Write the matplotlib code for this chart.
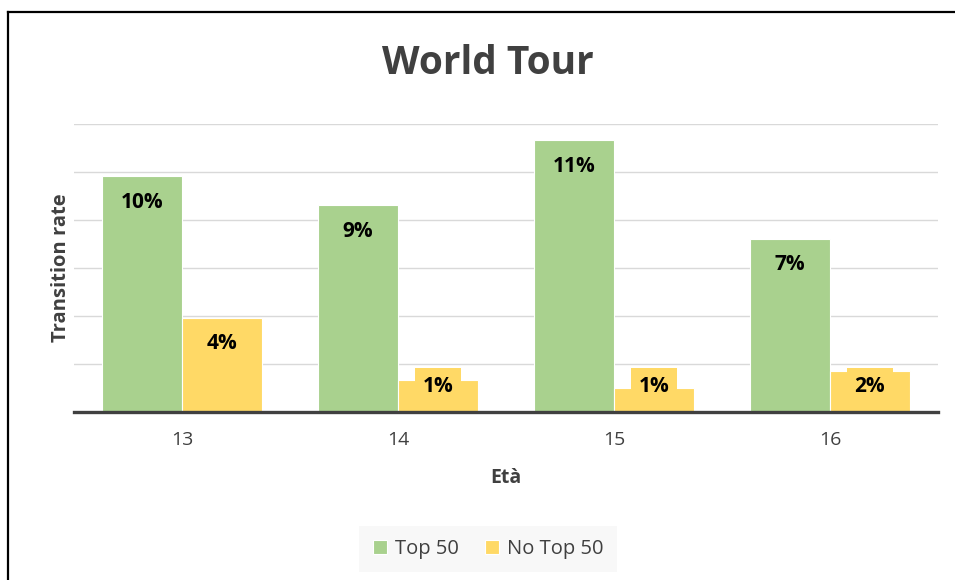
import matplotlib.pyplot as plt
from matplotlib.lines import Line2D
import numpy as np

plt.rcParams['font.family'] = ['Open Sans', 'DejaVu Sans']

# Data
ages = ['13', '14', '15', '16']
top50 = [9.8, 8.6, 11.3, 7.2]       # transition rate, %
no_top50 = [3.9, 1.3, 1.0, 1.7]     # transition rate, %
series_names = ['Top 50', 'No Top 50']

green = '#A9D18E'
yellow = '#FFD966'
text_dark = '#404040'

fig = plt.figure(figsize=(9.55, 5.8), dpi=100)
ax = fig.add_axes([74 / 955, 1 - 411.5 / 580, (938 - 74) / 955, (411.5 - 123.5) / 580])

x = np.arange(len(ages))
w = 0.37
b1 = ax.bar(x - w / 2, top50, width=w, color=green, edgecolor='white', linewidth=0.8,
            label=series_names[0], zorder=2)
b2 = ax.bar(x + w / 2, no_top50, width=w, color=yellow, edgecolor='white', linewidth=0.8,
            label=series_names[1], zorder=2)

ax.set_xlim(-0.5, len(ages) - 0.5)
ax.set_ylim(0, 12)
ax.set_yticks(np.arange(0, 13, 2))
ax.set_yticklabels([])
ax.tick_params(axis='y', length=0)
ax.tick_params(axis='x', length=0, labelsize=14, labelcolor=text_dark, pad=14)
ax.set_xticks(x)
ax.set_xticklabels(ages)
ax.grid(axis='y', color='#d9d9d9', linewidth=1.0, zorder=0)
ax.set_axisbelow(True)
for s in ['top', 'right', 'left']:
    ax.spines[s].set_visible(False)
ax.spines['bottom'].set_color(text_dark)
ax.spines['bottom'].set_linewidth(2.4)
ax.spines['bottom'].set_zorder(5)

# Value labels: inside the top of each bar, kept clear of the axis for short bars
for bars, vals, col in [(b1, top50, green), (b2, no_top50, yellow)]:
    for rect, v in zip(bars, vals):
        cx = rect.get_x() + rect.get_width() / 2
        ty = max(v - 1.08, 1.04)
        ax.text(cx, ty, f'{v:.0f}%', ha='center', va='center', fontsize=15,
                fontweight='bold', color='black', zorder=4,
                bbox=dict(boxstyle='square,pad=0.38', facecolor=col, edgecolor='none'))

ax.set_xlabel('Età', fontsize=14, fontweight='bold', color=text_dark, labelpad=14)
ax.set_ylabel('Transition rate', fontsize=14.5, fontweight='bold', color=text_dark, labelpad=-1)

fig.text(488 / 955, 1 - 63 / 580, 'World Tour', ha='center', va='center',
         fontsize=28, fontweight='bold', color=text_dark)

leg = fig.legend(handles=[b1, b2], labels=series_names, loc='center',
                 bbox_to_anchor=(488 / 955, 1 - 549 / 580), ncol=2, frameon=True,
                 fancybox=False, facecolor='#f7f7f7', edgecolor='none', fontsize=14.5,
                 handlelength=0.7, handleheight=0.7, handletextpad=0.4,
                 columnspacing=1.3, borderpad=0.65, borderaxespad=0)
for t in leg.get_texts():
    t.set_color(text_dark)

# Outer frame on the top and left edges
fig.add_artist(Line2D([7.5 / 955, 1], [1 - 12 / 580, 1 - 12 / 580], color='black',
                      linewidth=1.6, transform=fig.transFigure))
fig.add_artist(Line2D([7.5 / 955, 7.5 / 955], [0, 1 - 12 / 580], color='black',
                      linewidth=1.6, transform=fig.transFigure))

fig.savefig('out.png', dpi=100)
